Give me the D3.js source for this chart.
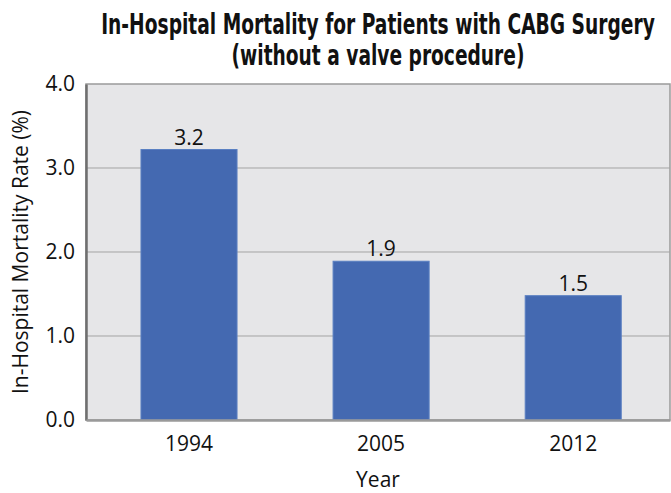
<!DOCTYPE html>
<html>
<head>
<meta charset="utf-8">
<script src="https://cdn.jsdelivr.net/npm/d3@7"></script>
<style>
  body { margin: 0; background: #fff; }
  svg { display: block; }
</style>
</head>
<body>
<svg id="chart" width="671" height="493"></svg>
<script>
const years = ["1994", "2005", "2012"];
const rates = [3.22, 1.89, 1.48];
const rateLabels = ["3.2", "1.9", "1.5"];
const yTicks = [0, 1, 2, 3, 4];

const svg = d3.select("#chart"),
    margin = {top: 84, right: 1, bottom: 73, left: 86},
    width = +svg.attr("width") - margin.left - margin.right,
    height = +svg.attr("height") - margin.top - margin.bottom,
    g = svg.append("g").attr("transform", "translate(" + margin.left + "," + margin.top + ")");

const tickFont = "'Open Sans', 'Noto Sans', sans-serif";

let x = d3.scaleBand().domain(years).range([0, width])
        .paddingInner(0.5).paddingOuter(0.27).align(0.53),
    y = d3.scaleLinear().domain([0, 4]).range([height, 0]);

// plot background + frame
g.append("rect")
    .attr("width", width).attr("height", height)
    .attr("fill", "#e6e6e8")
    .attr("stroke", "#9a9a9a").attr("stroke-width", 1.5);

// gridlines
g.selectAll(".grid")
    .data(yTicks.filter(d => d > 0 && d < 4))
    .enter().append("line")
    .attr("class", "grid")
    .attr("x1", 0).attr("x2", width)
    .attr("y1", d => y(d)).attr("y2", d => y(d))
    .attr("stroke", "#a3a3a3").attr("stroke-width", 1);

// bars
g.selectAll(".bar")
    .data(rates)
    .enter().append("rect")
    .attr("class", "bar")
    .attr("x", (d, i) => x(years[i]))
    .attr("y", d => y(d))
    .attr("width", x.bandwidth())
    .attr("height", d => height - y(d))
    .attr("fill", "#4469b1")
    .attr("stroke", "#5a7fc2").attr("stroke-width", 1);

// value labels
g.selectAll(".val")
    .data(rates)
    .enter().append("text")
    .attr("class", "val")
    .attr("x", (d, i) => x(years[i]) + x.bandwidth() / 2)
    .attr("y", d => y(d) - 5)
    .attr("text-anchor", "middle")
    .style("font", "21px " + tickFont)
    .attr("fill", "#111")
    .text((d, i) => rateLabels[i]);

// y axis
let yAxis = g.append("g")
    .call(d3.axisLeft(y).tickValues(yTicks).tickFormat(d3.format(".1f")).tickSize(0).tickPadding(11));
yAxis.select(".domain").attr("stroke", "#6f6f6f").attr("stroke-width", 2.5);
yAxis.selectAll("text").style("font", "21px " + tickFont).attr("fill", "#111");

// x axis
let xAxis = g.append("g")
    .attr("transform", "translate(0," + height + ")")
    .call(d3.axisBottom(x).tickSize(0).tickPadding(16));
xAxis.select(".domain").attr("stroke", "#9a9a9a").attr("stroke-width", 2.5);
xAxis.selectAll("text").style("font", "21px " + tickFont).attr("fill", "#111");

// axis titles
svg.append("text")
    .attr("transform", "translate(28," + (margin.top + height / 2) + ") rotate(-90)")
    .attr("text-anchor", "middle")
    .style("font", "21px " + tickFont)
    .attr("fill", "#111")
    .text("In-Hospital Mortality Rate (%)");

svg.append("text")
    .attr("x", margin.left + width / 2)
    .attr("y", 487)
    .attr("text-anchor", "middle")
    .style("font", "21px " + tickFont)
    .attr("fill", "#111")
    .text("Year");

// title - condensed by squeezing horizontally to the reference width
const titleLines = [
    {text: "In-Hospital Mortality for Patients with CABG Surgery", y: 34, len: 554},
    {text: "(without a valve procedure)", y: 65, len: 293}
];
svg.selectAll(".title")
    .data(titleLines)
    .enter().append("text")
    .attr("class", "title")
    .attr("text-anchor", "middle")
    .style("font", "bold 28px 'Liberation Sans Narrow', 'DejaVu Sans Condensed', sans-serif")
    .attr("fill", "#111")
    .text(d => d.text)
    .attr("transform", function (d) {
        let sx = d.len / this.getComputedTextLength();
        return "translate(" + (margin.left + width / 2) + "," + d.y + ") scale(" + sx + ",1)";
    });
</script>
</body>
</html>
